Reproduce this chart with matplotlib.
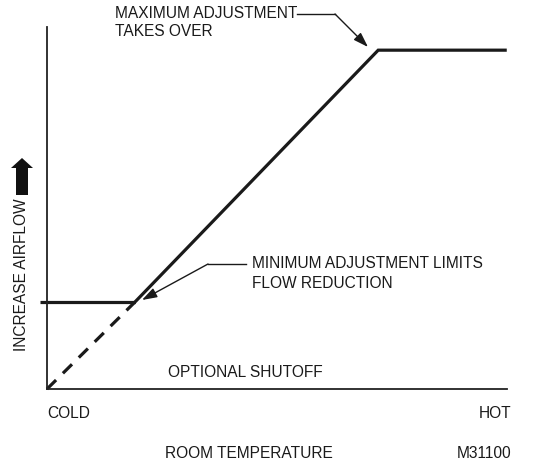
import matplotlib
matplotlib.use("Agg")
import matplotlib.pyplot as plt
from matplotlib.patches import Polygon

plt.rcParams['font.family'] = ['Liberation Sans', 'DejaVu Sans']

# Data (normalized: room temperature 0=COLD..100=HOT, airflow 0..100)
min_flow_x = [-1.5, 19.1]
min_flow_y = [24.0, 24.0]
shutoff_x = [0.0, 19.1]
shutoff_y = [0.0, 24.0]
ramp_x = [19.1, 72.0, 99.6]
ramp_y = [24.0, 93.6, 93.6]

W, H = 535, 465
fig = plt.figure(figsize=(W / 100, H / 100), dpi=100)
ax = fig.add_axes([47 / W, (H - 389) / H, 460 / W, 362 / H])
ax.set_xlim(0, 100)
ax.set_ylim(0, 100)
ax.set_xticks([])
ax.set_yticks([])
for s in ['top', 'right']:
    ax.spines[s].set_visible(False)
for s in ['left', 'bottom']:
    ax.spines[s].set_linewidth(1.3)
    ax.spines[s].set_color('#222222')

lc = '#1a1a1a'
ax.plot(min_flow_x, min_flow_y, color=lc, lw=2.3, clip_on=False, solid_capstyle='butt')
ax.plot(shutoff_x, shutoff_y, color=lc, lw=2.3, dashes=(4, 3), clip_on=False)
ax.plot(ramp_x, ramp_y, color=lc, lw=2.3, clip_on=False, solid_joinstyle='miter')

fs = 11.2
tc = '#1a1a1a'

def fx(px):
    return px / W

def fy(py):
    return 1 - py / H

# Max annotation
fig.text(fx(115), fy(13), "MAXIMUM ADJUSTMENT", fontsize=fs, color=tc, va='center', ha='left')
fig.text(fx(115), fy(32), "TAKES OVER", fontsize=fs, color=tc, va='center', ha='left')
fig.add_artist(plt.Line2D([fx(297), fx(335)], [fy(14), fy(14)], color=tc, lw=1.0))
ax.annotate("", xy=(fx(368), fy(47)), xycoords='figure fraction',
            xytext=(fx(335), fy(14)), textcoords='figure fraction',
            arrowprops=dict(arrowstyle='-|>,head_length=0.9,head_width=0.3', color=tc, lw=1.0,
                            shrinkA=0, shrinkB=0))

# Min annotation
fig.text(fx(252), fy(264), "MINIMUM ADJUSTMENT LIMITS", fontsize=fs, color=tc, va='center', ha='left')
fig.text(fx(252), fy(283), "FLOW REDUCTION", fontsize=fs, color=tc, va='center', ha='left')
fig.add_artist(plt.Line2D([fx(208), fx(246)], [fy(264), fy(264)], color=tc, lw=1.0))
ax.annotate("", xy=(fx(142), fy(300)), xycoords='figure fraction',
            xytext=(fx(208), fy(264)), textcoords='figure fraction',
            arrowprops=dict(arrowstyle='-|>,head_length=0.9,head_width=0.3', color=tc, lw=1.0,
                            shrinkA=0, shrinkB=0))

fig.text(fx(168), fy(372), "OPTIONAL SHUTOFF", fontsize=fs, color=tc, va='center', ha='left')
fig.text(fx(47), fy(413), "COLD", fontsize=fs, color=tc, va='center', ha='left')
fig.text(fx(511), fy(413), "HOT", fontsize=fs, color=tc, va='center', ha='right')
fig.text(fx(165), fy(453), "ROOM TEMPERATURE", fontsize=fs, color=tc, va='center', ha='left')
fig.text(fx(511), fy(453), "M31100", fontsize=fs, color=tc, va='center', ha='right')

fig.text(fx(22), fy(275), "INCREASE AIRFLOW", fontsize=fs, color=tc, va='center', ha='center',
         rotation=90)

# Thick up arrow
arrow_pts = [(16, 195), (28, 195), (28, 168), (33, 168), (22, 158), (11, 168), (16, 168)]
fig.add_artist(Polygon([(fx(x), fy(y)) for x, y in arrow_pts], closed=True,
                       facecolor='#111111', edgecolor='none', transform=fig.transFigure))

fig.savefig("out.png", dpi=100)
